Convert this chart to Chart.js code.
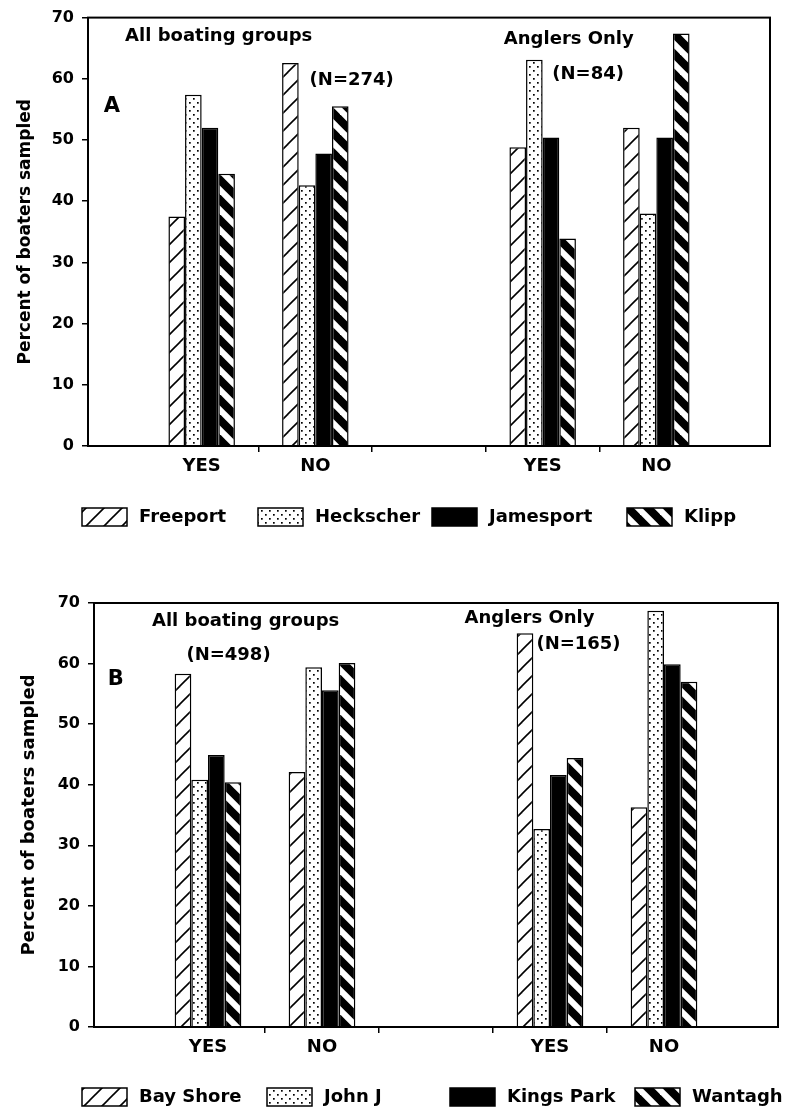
<!DOCTYPE html>
<html>
<head>
<meta charset="utf-8">
<script src="https://cdn.jsdelivr.net/npm/chart.js@4.4.1/dist/chart.umd.min.js"></script>
<style>
    html, body { margin: 0; padding: 0; background: #fff; overflow: hidden; }
    body { width: 785px; height: 1110px; position: relative; }
    .panel { position: absolute; left: 0; }
    #panelA { top: 0; }
    #panelB { top: 560px; }
</style>
</head>
<body>
<div class="panel" id="panelA"><canvas id="chartA" width="785" height="550"></canvas></div>
<div class="panel" id="panelB"><canvas id="chartB" width="785" height="550"></canvas></div>
<script>
// x categories - empty slots keep the two YES/NO pairs apart
var groups = ['', 'YES', 'NO', '', 'YES', 'NO', ''];
var yMax = 70, yStep = 10;

// A: north shore / south shore sites
var sitesA = ['Freeport', 'Heckscher', 'Jamesport', 'Klipp'];
var freeport  = [null, 37.5, 62.6, null, 48.8, 52.0, null];
var heckscher = [null, 57.4, 42.6, null, 63.1, 38.0, null];
var jamesport = [null, 52.0, 47.8, null, 50.4, 50.4, null];
var klipp     = [null, 44.5, 55.5, null, 33.9, 67.4, null];

// B: state park sites
var sitesB = ['Bay Shore', 'John J', 'Kings Park', 'Wantagh'];
var bayShore  = [null, 58.3, 42.1, null, 65.0, 36.3, null];
var johnJ     = [null, 40.8, 59.4, null, 32.7, 68.7, null];
var kingsPark = [null, 44.9, 55.6, null, 41.6, 59.9, null];
var wantagh   = [null, 40.4, 60.1, null, 44.4, 57.0, null];

// text inside the plot (x = category index, y = percent)
var notesA = [
    { text: 'All boating groups', x: 1.15, y: 66.9 },
    { text: '(N=274)', x: 2.32, y: 59.7 },
    { text: 'A', x: 0.21, y: 55.5, size: 21 },
    { text: 'Anglers Only', x: 4.23, y: 66.4 },
    { text: '(N=84)', x: 4.40, y: 60.7 }
];
var notesB = [
    { text: 'All boating groups', x: 1.33, y: 66.9 },
    { text: '(N=498)', x: 1.18, y: 61.4 },
    { text: 'B', x: 0.19, y: 57.3, size: 21 },
    { text: 'Anglers Only', x: 3.82, y: 67.5 },
    { text: '(N=165)', x: 4.25, y: 63.2 }
];

var FONT = "'DejaVu Sans', 'Liberation Sans', sans-serif";
Chart.defaults.font.family = FONT;
Chart.defaults.font.weight = 'bold';
Chart.defaults.color = '#000';

// fill patterns for the four sites
function makePattern(kind) {
    var c = document.createElement('canvas');
    var g = c.getContext('2d');
    var s = kind == 'dots' ? 8 : (kind == 'slash' ? 18 : 20);
    c.width = s; c.height = s;
    g.fillStyle = '#fff';
    g.fillRect(0, 0, s, s);
    g.fillStyle = '#000';
    g.strokeStyle = '#000';
    if (kind == 'slash') {
        g.lineWidth = 1.6;
        for (var k = -1; k <= 1; k++) {
            g.beginPath(); g.moveTo(k * s - s, 2 * s); g.lineTo(k * s + 2 * s, -s); g.stroke();
        }
    } else if (kind == 'back') {
        g.lineWidth = 8;
        for (var j = -1; j <= 1; j++) {
            g.beginPath(); g.moveTo(j * s - s, -s); g.lineTo(j * s + 2 * s, 2 * s); g.stroke();
        }
    } else if (kind == 'dots') {
        g.fillRect(1, 2, 1.7, 1.7);
        g.fillRect(5, 6, 1.7, 1.7);
    } else {
        g.fillRect(0, 0, s, s);
    }
    return g.createPattern(c, 'repeat');
}
var fills = [makePattern('slash'), makePattern('dots'), makePattern('solid'), makePattern('back')];

// box round the plot area
var framePlugin = {
    id: 'frame',
    afterDatasetsDraw: function (chart) {
        var a = chart.chartArea, ctx = chart.ctx;
        ctx.save();
        ctx.strokeStyle = '#000';
        ctx.lineWidth = 2;
        ctx.strokeRect(a.left, a.top, a.right - a.left, a.bottom - a.top);
        ctx.restore();
    }
};

function notesPlugin(notes) {
    return {
        id: 'notes',
        afterDraw: function (chart) {
            var ctx = chart.ctx, sx = chart.scales.x, sy = chart.scales.y;
            ctx.save();
            ctx.fillStyle = '#000';
            ctx.textAlign = 'center';
            ctx.textBaseline = 'middle';
            notes.forEach(function (n) {
                ctx.font = 'bold ' + (n.size || 18) + 'px ' + FONT;
                var x = sx.getPixelForValue(0) + n.x * (sx.getPixelForValue(1) - sx.getPixelForValue(0));
                ctx.fillText(n.text, x, sy.getPixelForValue(n.y));
            });
            ctx.restore();
        }
    };
}

// legend row under the axis, one swatch per site
function legendPlugin(pos) {
    return {
        id: 'siteLegend',
        afterDraw: function (chart) {
            var ctx = chart.ctx;
            ctx.save();
            ctx.font = 'bold 18px ' + FONT;
            ctx.textAlign = 'left';
            ctx.textBaseline = 'middle';
            chart.data.datasets.forEach(function (ds, i) {
                var x = pos.x[i], y = pos.y;
                ctx.fillStyle = ds.backgroundColor;
                ctx.fillRect(x, y - 9, 45, 18);
                ctx.strokeStyle = '#000';
                ctx.lineWidth = 1.5;
                ctx.strokeRect(x, y - 9, 45, 18);
                ctx.fillStyle = '#000';
                ctx.fillText(ds.label, x + 57, y);
            });
            ctx.restore();
        }
    };
}

function buildChart(canvasId, sites, series, notes, cfg) {
    var datasets = series.map(function (values, i) {
        return {
            label: sites[i],
            data: values,
            backgroundColor: fills[i],
            borderColor: '#000',
            borderWidth: 1.5,
            categoryPercentage: 0.585,
            barPercentage: 1.0
        };
    });
    return new Chart(document.getElementById(canvasId), {
        type: 'bar',
        data: { labels: groups, datasets: datasets },
        plugins: [framePlugin, notesPlugin(notes), legendPlugin(cfg.legend)],
        options: {
            responsive: false,
            animation: false,
            layout: { padding: cfg.padding },
            plugins: {
                tooltip: { enabled: false },
                legend: { display: false }
            },
            scales: {
                x: {
                    offset: false,
                    afterFit: function (scale) { scale.height = 40; },
                    grid: {
                        offset: true,
                        drawOnChartArea: false,
                        tickLength: 6,
                        lineWidth: 1.5,
                        tickColor: function (c) {
                            return (c.index === 1 || c.index === groups.length - 1) ? 'rgba(0,0,0,0)' : '#000';
                        }
                    },
                    border: { color: '#000', width: 2 },
                    ticks: { font: { size: 18, weight: 'bold' }, color: '#000', padding: 4, maxRotation: 0, autoSkip: false }
                },
                y: {
                    min: 0,
                    max: yMax,
                    afterFit: function (scale) { scale.width = cfg.yWidth; },
                    grid: { drawOnChartArea: false, tickLength: 6, lineWidth: 1.5, color: '#000' },
                    border: { color: '#000', width: 2 },
                    ticks: { stepSize: yStep, font: { size: 16, weight: 'bold' }, color: '#000', padding: 8 },
                    title: {
                        display: true,
                        text: 'Percent of boaters sampled',
                        font: { size: cfg.titleSize, weight: 'bold' },
                        color: '#000',
                        padding: { top: cfg.titlePad, bottom: 0 }
                    }
                }
            }
        }
    });
}

var chartA = buildChart('chartA', sitesA, [freeport, heckscher, jamesport, klipp], notesA, {
    padding: { left: 0, right: 15, top: 17, bottom: 64 },
    yWidth: 88, titlePad: 15, titleSize: 17,
    legend: { x: [82, 258, 432, 627], y: 517 }
});
var chartB = buildChart('chartB', sitesB, [bayShore, johnJ, kingsPark, wantagh], notesB, {
    padding: { left: 0, right: 7, top: 43, bottom: 43 },
    yWidth: 94, titlePad: 19, titleSize: 18,
    legend: { x: [82, 267, 450, 635], y: 537 }
});
</script>
</body>
</html>
